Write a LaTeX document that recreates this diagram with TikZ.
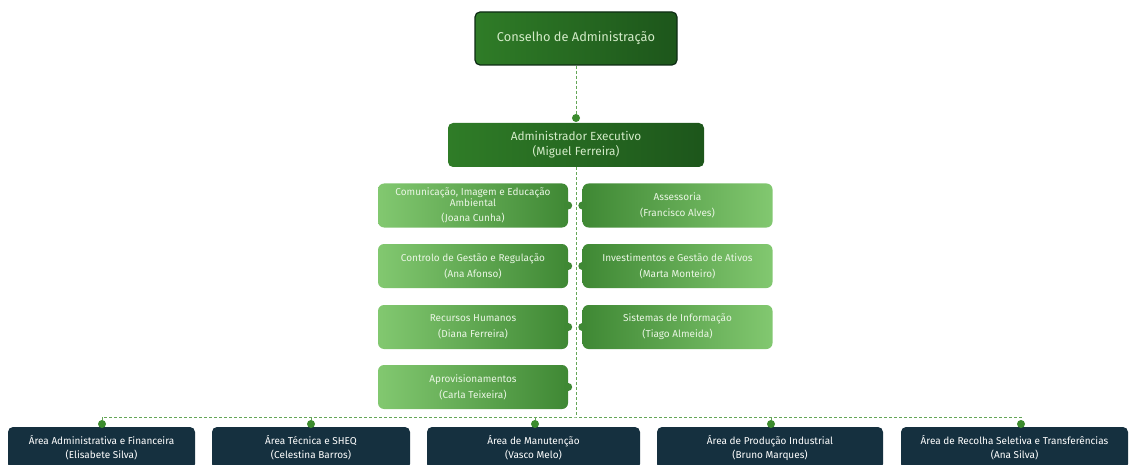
\documentclass[tikz,border=0pt]{standalone}
\usepackage{fontspec}
\setmainfont{Fira Sans}
\usepackage{tikz}
\definecolor{topA}{HTML}{2F7C27}
\definecolor{topB}{HTML}{1D561B}
\definecolor{topline}{HTML}{0E2C14}
\definecolor{darktext}{HTML}{D3EBC8}
\definecolor{midlight}{HTML}{82C870}
\definecolor{middark}{HTML}{3F8834}
\definecolor{midtext}{HTML}{EAF6E4}
\definecolor{navy}{HTML}{15303F}
\definecolor{linegreen}{HTML}{64A657}
\definecolor{dotgreen}{HTML}{3C8C2E}

\begin{document}
\begin{tikzpicture}[x=1pt,y=-1pt]
\tikzstyle{dark}=[rounded corners=5pt,left color=topA,right color=topB,text=darktext,align=center,inner sep=0pt]
\tikzstyle{lbox}=[rounded corners=6pt,left color=midlight,right color=middark,text=midtext,align=center,inner sep=0pt,minimum width=190pt,minimum height=44pt,font=\fontsize{10}{11}\selectfont]
\tikzstyle{rbox}=[lbox,left color=middark,right color=midlight]
\tikzstyle{area}=[rounded corners=5pt,fill=navy,text=white,align=center,inner sep=0pt,minimum height=42pt,font=\fontsize{10}{12}\selectfont]
\tikzstyle{dot}=[circle,fill=dotgreen,minimum size=8pt,inner sep=0pt]
\tikzstyle{link}=[linegreen,line width=0.7pt,dash pattern=on 3pt off 2pt]
\clip (0,0) rectangle (1132,465);
\node[dark,draw=topline,line width=1.2pt,minimum width=202pt,minimum height=53pt,font=\fontsize{12.8}{15}\selectfont] (0) at (576,38.5) {Conselho de Administração};
\node[dark,minimum width=256pt,minimum height=44pt,font=\fontsize{11.8}{15}\selectfont] (1) at (576,145) {Administrador Executivo\\(Miguel Ferreira)};
\node[dot] (d0) at (576,118) {};
\node[lbox] (2) at (473,205.5) {Comunicação, Imagem e Educação\\Ambiental\\[4pt](Joana Cunha)};
\node[rbox] (3) at (677.5,205.5) {Assessoria\\[5pt](Francisco Alves)};
\node[lbox] (4) at (473,266) {Controlo de Gestão e Regulação\\[5pt](Ana Afonso)};
\node[rbox] (5) at (677.5,266) {Investimentos e Gestão de Ativos\\[5pt](Marta Monteiro)};
\node[lbox] (6) at (473,327) {Recursos Humanos\\[5pt](Diana Ferreira)};
\node[rbox] (7) at (677.5,327) {Sistemas de Informação\\[5pt](Tiago Almeida)};
\node[lbox] (8) at (473,387) {Aprovisionamentos\\[5pt](Carla Teixeira)};
\foreach \n in {2,4,6,8} \fill[middark] (\n.east) circle (4pt);
\foreach \n in {3,5,7} \fill[middark] (\n.west) circle (4pt);
\node[area,minimum width=187pt] (9) at (101.5,448) {Área Administrativa e Financeira\\[2pt](Elisabete Silva)};
\node[area,minimum width=198pt] (10) at (311,448) {Área Técnica e SHEQ\\[2pt](Celestina Barros)};
\node[area,minimum width=213pt] (11) at (533.5,448) {Área de Manutenção\\[2pt](Vasco Melo)};
\node[area,minimum width=226pt] (12) at (770,448) {Área de Produção Industrial\\[2pt](Bruno Marques)};
\node[area,minimum width=227pt] (13) at (1014.5,448) {Área de Recolha Seletiva e Transferências\\[2pt](Ana Silva)};
\coordinate (h) at (576,417);
\draw[link] (0) -- (d0);
\draw[link] (1) -- (h);
\node[dot] (d1) at (102,424) {};
\node[dot] (d2) at (311,424) {};
\node[dot] (d3) at (535,424) {};
\node[dot] (d4) at (771,424) {};
\node[dot] (d5) at (1021,424) {};
\draw[link] (d1) |- (h) -| (d5);
\draw[link] (d2) -- (d2 |- h);
\draw[link] (d3) -- (d3 |- h);
\draw[link] (d4) -- (d4 |- h);
\end{tikzpicture}
\end{document}
